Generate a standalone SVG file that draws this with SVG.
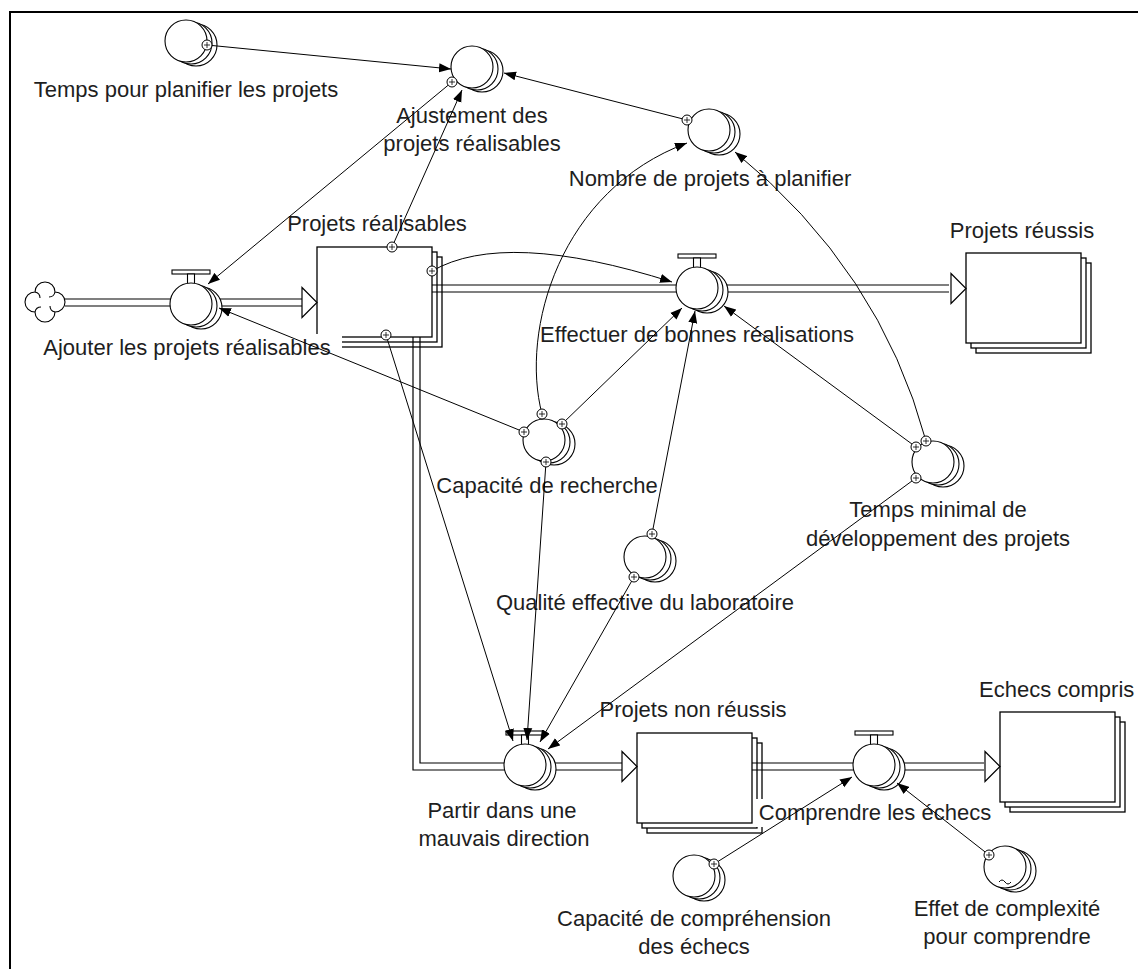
<svg xmlns="http://www.w3.org/2000/svg" width="1138" height="969" viewBox="0 0 1138 969">
<style>
text{font-family:"Liberation Sans",Arial,sans-serif;font-size:22px;fill:#1e1e1e;text-anchor:middle}
.pipe{fill:none;stroke:#000;stroke-width:1.2}
.link{fill:none;stroke:#000;stroke-width:1}
.frame{fill:none;stroke:#000;stroke-width:2}
.bg{fill:#fff;stroke:none}
</style>
<defs>
<marker id="ah" markerUnits="userSpaceOnUse" markerWidth="13" markerHeight="10" refX="12" refY="5" orient="auto"><path d="M0,0.5 L12,5 L0,9.5z" fill="#000"/></marker>
<g id="conv" fill="#fff" stroke="#000" stroke-width="1.1"><circle cx="10" cy="4" r="21"/><circle cx="5" cy="2" r="21"/><circle cx="0" cy="0" r="21"/></g>
<g id="valve" fill="#fff" stroke="#000" stroke-width="1.1"><rect x="-19" y="-34" width="38" height="4"/><rect x="-3.5" y="-30" width="7" height="10"/><circle cx="10" cy="4" r="21"/><circle cx="5" cy="2" r="21"/><circle cx="0" cy="0" r="21"/></g>
<g id="stock" fill="#fff" stroke="#000" stroke-width="1.3"><rect x="10" y="10" width="115" height="90"/><rect x="5" y="5" width="115" height="90"/><rect x="0" y="0" width="115" height="90"/></g>
<g id="dot" fill="#fff" stroke="#000" stroke-width="1"><circle r="5"/><path d="M0,-3 V3 M-3,0 H3" stroke-width="0.8"/></g>
<g id="fa" fill="#fff" stroke="#000" stroke-width="1.2"><path d="M0,-15 L15,0 L0,15 Z"/></g>
</defs>

<g id="frame"><path class="frame" d="M10,969 V12 H1138"/></g>

<g id="stock-projets-realisables"><use href="#stock" x="317" y="247"/></g>
<g id="stock-projets-reussis"><use href="#stock" x="966" y="253"/></g>
<g id="stock-projets-non-reussis"><use href="#stock" x="637" y="733"/></g>
<g id="stock-echecs-compris"><use href="#stock" x="1000" y="712"/></g>

<g id="pipes">
<path class="pipe" d="M65,299 H302 M65,306 H302"/>
<path class="pipe" d="M432,285 H949 M432,292 H949"/>
<path class="pipe" d="M413,337 V770 H622 M420,337 V763 H622"/>
<path class="pipe" d="M752,763 H984 M752,770 H984"/>
<use href="#fa" x="302" y="302.5"/>
<use href="#fa" x="951" y="288.5"/>
<use href="#fa" x="622" y="766.5"/>
<use href="#fa" x="985" y="766.5"/>
</g>

<g id="cloud" fill="#fff" stroke="#000" stroke-width="1.1">
<path d="M35,292 A10,10 0 0 1 55,292 A10,10 0 0 1 55,312 A10,10 0 0 1 35,312 A10,10 0 0 1 35,292 Z"/>
<path d="M55,292 q-1,5 -6,5 M55,312 q-5,-1 -5,-6 M35,312 q1,-5 6,-5 M35,292 q5,1 5,6" fill="none"/>
</g>

<g id="valve-ajouter"><use href="#valve" x="191" y="304"/></g>
<g id="valve-effectuer"><use href="#valve" x="697" y="288"/></g>
<g id="valve-partir"><use href="#valve" x="525" y="765"/></g>
<g id="valve-comprendre"><use href="#valve" x="874" y="765"/></g>

<g id="aux-temps-planifier"><use href="#conv" x="186" y="41"/></g>
<g id="aux-ajustement"><use href="#conv" x="472" y="67"/></g>
<g id="aux-nombre"><use href="#conv" x="709" y="130"/></g>
<g id="aux-capacite-recherche"><use href="#conv" x="544" y="440"/></g>
<g id="aux-qualite"><use href="#conv" x="645" y="557"/></g>
<g id="aux-temps-minimal"><use href="#conv" x="933" y="462"/></g>
<g id="aux-capacite-comprehension"><use href="#conv" x="694" y="876"/></g>
<g id="aux-effet-complexite"><use href="#conv" x="1005" y="867"/><path d="M999,882 q3,-4 6,0 t6,0" fill="none" stroke="#000" stroke-width="1"/></g>

<g id="labels">
<rect class="bg" x="40" y="334" width="302" height="28"/>
<rect class="bg" x="755" y="799" width="240" height="28"/>
<text x="186" y="97">Temps pour planifier les projets</text>
<text x="472" y="123">Ajustement des</text>
<text x="472" y="151">projets réalisables</text>
<text x="710" y="186">Nombre de projets à planifier</text>
<text x="377" y="231">Projets réalisables</text>
<text x="1022" y="238">Projets réussis</text>
<text x="187" y="355">Ajouter les projets réalisables</text>
<text x="697" y="342">Effectuer de bonnes réalisations</text>
<text x="547" y="493">Capacité de recherche</text>
<text x="645" y="610">Qualité effective du laboratoire</text>
<text x="938" y="517">Temps minimal de</text>
<text x="938" y="546">développement des projets</text>
<text x="693" y="717">Projets non réussis</text>
<text x="979" y="697" style="text-anchor:start">Echecs compris</text>
<text x="502" y="818">Partir dans une</text>
<text x="504" y="846">mauvais direction</text>
<text x="875" y="820">Comprendre les échecs</text>
<text x="694" y="926">Capacité de compréhension</text>
<text x="694" y="954">des échecs</text>
<text x="1007" y="916">Effet de complexité</text>
<text x="1007" y="944">pour comprendre</text>
</g>

<g id="connectors">
<path class="link" marker-end="url(#ah)" d="M207,45 L451,69"/>
<path class="link" marker-end="url(#ah)" d="M687,120 L504,73"/>
<path class="link" marker-end="url(#ah)" d="M392,247 L462,90"/>
<path class="link" marker-end="url(#ah)" d="M452,82 L208,284"/>
<path class="link" marker-end="url(#ah)" d="M432,271 Q505,229 672,282"/>
<path class="link" marker-end="url(#ah)" d="M524,432 L219,308"/>
<path class="link" marker-end="url(#ah)" d="M562,424 L682,308"/>
<path class="link" marker-end="url(#ah)" d="M542,414 C520,330 560,190 687,143"/>
<path class="link" marker-end="url(#ah)" d="M652,534 L695,311"/>
<path class="link" marker-end="url(#ah)" d="M916,447 L724,306"/>
<path class="link" marker-end="url(#ah)" d="M926,441 Q880,270 735,152"/>
<path class="link" marker-end="url(#ah)" d="M916,478 L548,749"/>
<path class="link" marker-end="url(#ah)" d="M386,335 L513,741"/>
<path class="link" marker-end="url(#ah)" d="M546,462 L527,740"/>
<path class="link" marker-end="url(#ah)" d="M634,577 L540,742"/>
<path class="link" marker-end="url(#ah)" d="M714,864 L852,777"/>
<path class="link" marker-end="url(#ah)" d="M989,855 L897,783"/>
<use href="#dot" x="207" y="45"/>
<use href="#dot" x="687" y="120"/>
<use href="#dot" x="392" y="247"/>
<use href="#dot" x="452" y="82"/>
<use href="#dot" x="432" y="271"/>
<use href="#dot" x="524" y="432"/>
<use href="#dot" x="562" y="424"/>
<use href="#dot" x="542" y="414"/>
<use href="#dot" x="546" y="462"/>
<use href="#dot" x="652" y="534"/>
<use href="#dot" x="634" y="577"/>
<use href="#dot" x="916" y="447"/>
<use href="#dot" x="926" y="441"/>
<use href="#dot" x="916" y="478"/>
<use href="#dot" x="386" y="335"/>
<use href="#dot" x="714" y="864"/>
<use href="#dot" x="989" y="855"/>
</g>
</svg>
